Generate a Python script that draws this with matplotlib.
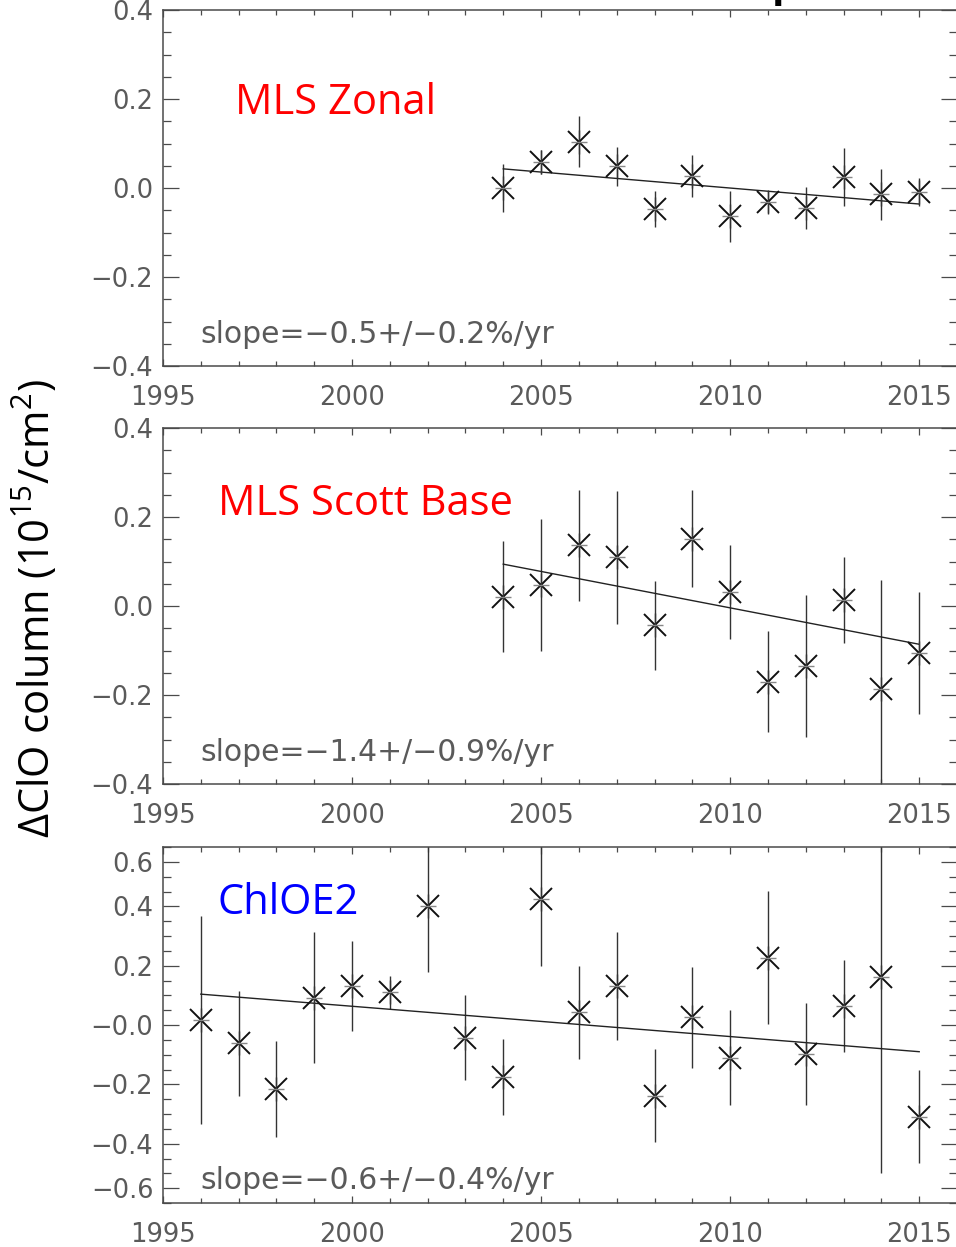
import matplotlib
matplotlib.use("Agg")
import matplotlib.pyplot as plt
from matplotlib.ticker import MultipleLocator, FixedLocator

# ---------------- data ----------------
years_mls = [2004, 2005, 2006, 2007, 2008, 2009, 2010, 2011, 2012, 2013, 2014, 2015]
zonal_val = [0.000, 0.058, 0.104, 0.049, -0.047, 0.027, -0.064, -0.032, -0.045, 0.025, -0.014, -0.009]
zonal_err = [0.055, 0.027, 0.057, 0.044, 0.040, 0.047, 0.058, 0.025, 0.047, 0.066, 0.057, 0.032]
zonal_fit = [0.043, -0.036]

scott_val = [0.021, 0.047, 0.136, 0.109, -0.043, 0.151, 0.031, -0.170, -0.135, 0.013, -0.187, -0.106]
scott_err = [0.125, 0.148, 0.124, 0.150, 0.100, 0.109, 0.106, 0.113, 0.160, 0.097, 0.245, 0.137]
scott_fit = [0.094, -0.086]

years_chl = [1996, 1997, 1998, 1999, 2000, 2001, 2002, 2003, 2004, 2005,
             2006, 2007, 2008, 2009, 2010, 2011, 2012, 2013, 2014, 2015]
chl_val = [0.017, -0.062, -0.217, 0.092, 0.132, 0.110, 0.401, -0.043, -0.176, 0.425,
           0.043, 0.132, -0.238, 0.026, -0.110, 0.227, -0.098, 0.064, 0.163, -0.309]
chl_err = [0.352, 0.176, 0.162, 0.221, 0.152, 0.056, 0.224, 0.144, 0.129, 0.226,
           0.157, 0.181, 0.157, 0.170, 0.161, 0.225, 0.171, 0.155, 0.663, 0.156]
chl_fit = [0.104, -0.090]

titles = ["MLS Zonal", "MLS Scott Base", "ChlOE2"]
title_colors = ["#ff0000", "#ff0000", "#0000ff"]
slopes = ["slope=\u22120.5+/\u22120.2%/yr",
          "slope=\u22121.4+/\u22120.9%/yr",
          "slope=\u22120.6+/\u22120.4%/yr"]

xticks_major = [1995, 2000, 2005, 2010, 2015]
xtick_labels = ["1995", "2000", "2005", "2010", "2015"]
yticks_small = [-0.4, -0.2, 0.0, 0.2, 0.4]
ylabels_small = ["\u22120.4", "\u22120.2", "0.0", "0.2", "0.4"]
yticks_big = [-0.55, -0.4, -0.2, 0.0, 0.2, 0.4, 0.55]
ylabels_big = ["\u22120.6", "\u22120.4", "\u22120.2", "\u22120.0", "0.2", "0.4", "0.6"]

ylabel = "\u0394ClO column (10$^{\\mathregular{15}}$/cm$^{\\mathregular{2}}$)"

# ---------------- figure ----------------
W, H = 956, 1247
fig = plt.figure(figsize=(W / 100, H / 100), dpi=100)
plt.rcParams["mathtext.default"] = "regular"

def px_axes(left, top, right, bottom):
    return fig.add_axes([left / W, 1 - bottom / H, (right - left) / W, (bottom - top) / H])

GRAY = "#4a4a4a"
TXT = "#5a5a5a"
tick_font = dict(family=["DejaVu Sans"])

panels = [
    dict(box=(163, 10, 957, 366), x=years_mls, y=zonal_val, e=zonal_err, fit=zonal_fit,
         ylim=(-0.4, 0.4), yt=yticks_small, yl=ylabels_small,
         title_xy=(1996.9, 0.19), slope_y=-0.33),
    dict(box=(163, 428, 957, 784), x=years_mls, y=scott_val, e=scott_err, fit=scott_fit,
         ylim=(-0.4, 0.4), yt=yticks_small, yl=ylabels_small,
         title_xy=(1996.45, 0.23), slope_y=-0.33),
    dict(box=(163, 847, 957, 1203), x=years_chl, y=chl_val, e=chl_err, fit=chl_fit,
         ylim=(-0.6, 0.6), yt=yticks_big, yl=ylabels_big,
         title_xy=(1996.45, 0.41), slope_y=-0.523),
]

for i, p in enumerate(panels):
    ax = px_axes(*p["box"])
    ax.set_xlim(1995, 2016)
    ax.set_ylim(*p["ylim"])
    for s in ax.spines.values():
        s.set_color(GRAY)
        s.set_linewidth(1.1)

    ax.xaxis.set_major_locator(FixedLocator(xticks_major))
    ax.set_xticklabels(xtick_labels, fontdict=tick_font)
    ax.xaxis.set_minor_locator(MultipleLocator(1))
    ax.yaxis.set_major_locator(FixedLocator(p["yt"]))
    ax.set_yticklabels(p["yl"], fontdict=tick_font)
    ax.yaxis.set_minor_locator(MultipleLocator(0.05))

    ax.tick_params(axis="both", which="both", direction="in", top=True, right=True,
                   color=GRAY, width=0.9, labelcolor=TXT, labelsize=18.5)
    ax.tick_params(axis="x", which="major", length=5.0, pad=14)
    ax.tick_params(axis="x", which="minor", length=3.6)
    ax.tick_params(axis="y", which="major", length=11.5, pad=7)
    ax.tick_params(axis="y", which="minor", length=5.8)

    # error bars
    ax.errorbar(p["x"], p["y"], yerr=p["e"], fmt="none", ecolor="#333333",
                elinewidth=1.0, capsize=0, zorder=2)
    # asterisk markers (X + vertical + short horizontal)
    ax.plot(p["x"], p["y"], ls="none", marker="x", ms=16, mew=1.4, color="#111111", zorder=3)
    ax.plot(p["x"], p["y"], ls="none", marker="|", ms=17, mew=1.0, color="#333333", zorder=3)
    ax.plot(p["x"], p["y"], ls="none", marker="_", ms=12, mew=1.0, color="#888888", zorder=3)
    # trend line
    ax.plot([p["x"][0], p["x"][-1]], p["fit"], color="#222222", lw=1.0, zorder=2)

    ax.text(p["title_xy"][0], p["title_xy"][1], titles[i], color=title_colors[i],
            fontsize=30, family=["Open Sans", "DejaVu Sans"], va="center", ha="left")
    ax.text(1996.0, p["slope_y"], slopes[i], color=TXT, fontsize=21.5,
            family=["DejaVu Sans"], va="center", ha="left")

fig.text(36 / W, 1 - 608 / H, ylabel, rotation=90, va="center", ha="center",
         fontsize=30, family=["Open Sans", "DejaVu Sans"], color="black")

# descender of a cropped title at the very top
fig.text(772 / W, 1 + 4 / H, "p", fontsize=30, weight="bold",
         family=["Open Sans", "DejaVu Sans"], va="baseline", ha="left", color="black")

fig.savefig("out.png", dpi=100)
